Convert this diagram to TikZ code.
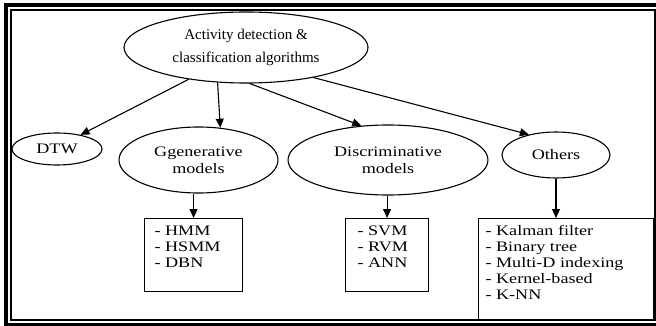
\documentclass[tikz,border=0pt]{standalone}
\usepackage{fontspec}
\setmainfont{Liberation Serif}
\newfontfamily\wideserif[FakeStretch=1.25]{Liberation Serif}
\usetikzlibrary{arrows.meta,shapes.geometric}
\tikzset{
	oval/.style={draw,ellipse,inner sep=0pt,align=center,line width=1.1pt,font=\wideserif\fontsize{14.5}{17}\selectfont},
	list/.style={draw,rectangle,anchor=north west,inner ysep=7pt,line width=1.1pt,font=\wideserif\fontsize{14.5}{16}\selectfont},
	link/.style={-{Triangle[length=9pt,width=8pt]},line width=1.1pt}
}
\begin{document}
\begin{tikzpicture}[x=1pt,y=-1pt]
	\useasboundingbox (0,0) rectangle (656,326);
	\clip (0,0) rectangle (656,326);
	\draw[line width=4pt] (6,5) rectangle (662,325);
	\draw[line width=2pt] (11,10) rectangle (654.5,319.5);

	\node[oval,minimum width=244pt,minimum height=71pt,font=\fontsize{15}{23.5}\selectfont] (root) at (246,47.5) {Activity detection \&\\classification algorithms};
	\node[oval,minimum width=90pt,minimum height=32pt] (dtw) at (57,149) {DTW};
	\node[oval,minimum width=159pt,minimum height=66pt] (gen) at (198.5,160) {Ggenerative\\models};
	\node[oval,minimum width=200pt,minimum height=70pt] (disc) at (388,160) {Discriminative\\models};
	\node[oval,minimum width=108pt,minimum height=46pt] (oth) at (556,155) {Others};

	\node[list,inner xsep=10pt] (genlist) at (144,218) {\parbox[t][59pt][t]{78pt}{- HMM\\- HSMM\\- DBN}};
	\node[list,inner xsep=12pt] (disclist) at (345,218) {\parbox[t][59pt][t]{59pt}{- SVM\\- RVM\\- ANN}};
	\node[list,inner xsep=7pt] (othlist) at (478,218) {\parbox[t][87pt][t]{161pt}{- Kalman filter\\- Binary tree\\- Multi-D indexing\\- Kernel-based\\- K-NN}};

	\draw[link] (root.209) -- (dtw.31);
	\draw[link] (root.231) -- (gen.56);
	\draw[link] (root.276) -- (disc.128);
	\draw[link] (root.336) -- (oth.143);
	\draw[link] (gen.south -| genlist.north) -- (genlist.north);
	\draw[link] (disc.south -| disclist.north) -- (disclist.north);
	\draw[link] (oth.south) -- (oth.south |- othlist.north);
\end{tikzpicture}
\end{document}
